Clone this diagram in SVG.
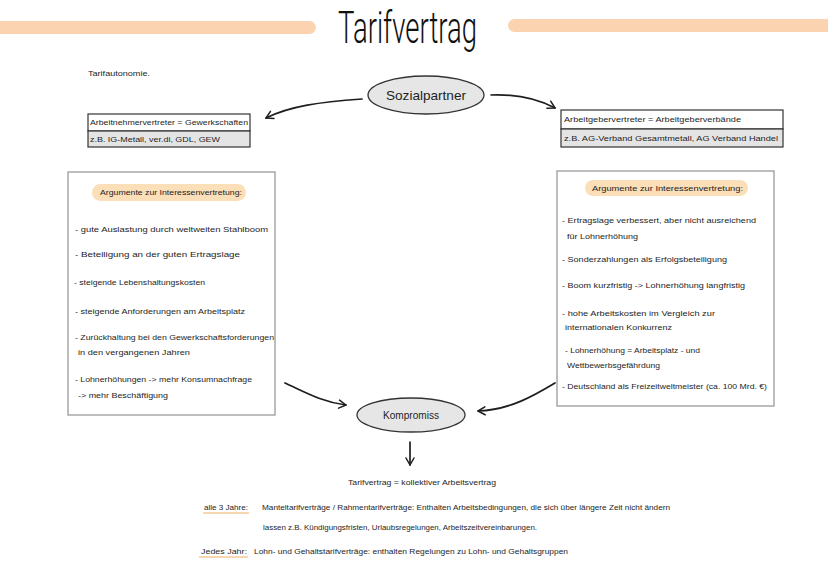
<svg xmlns="http://www.w3.org/2000/svg" width="828" height="586" viewBox="0 0 828 586">
<style>
text{font-family:"Liberation Sans","DejaVu Sans",sans-serif;fill:#1e1e1e}
.t{font-size:8px}
.s{font-size:7.5px}
.title{font-family:Roboto,"Liberation Sans",sans-serif;font-weight:300;font-size:45px;fill:#111}
.box{fill:#ffffff;stroke:#333;stroke-width:1.2}
.gray{fill:#e4e4e4;stroke:#333;stroke-width:1.2}
.arg{fill:#ffffff;stroke:#9a9a9a;stroke-width:1.3}
.pill{fill:#fbdfb9}
.ell{fill:#e6e6e6;stroke:#333;stroke-width:1.3}
.con{fill:none;stroke:#1e1e1e;stroke-width:1.7;stroke-linecap:round}
.bar{fill:#fbd3b1}
</style>
<defs>
<marker id="ah" markerWidth="10" markerHeight="10" refX="8" refY="5" orient="auto" markerUnits="userSpaceOnUse">
<path d="M1,1 L8,5 L1,9" fill="none" stroke="#1e1e1e" stroke-width="1.5" stroke-linecap="round" stroke-linejoin="round"/>
</marker>
</defs>
<rect width="828" height="586" fill="#ffffff"/>

<g id="header">
<rect class="bar" x="-10" y="21" width="326" height="13" rx="6.5"/>
<rect class="bar" x="508" y="19" width="330" height="13" rx="6.5"/>
<text class="title" x="338" y="43" textLength="139" lengthAdjust="spacingAndGlyphs">Tarifvertrag</text>
<text class="t" x="88" y="76" textLength="62" lengthAdjust="spacingAndGlyphs">Tarifautonomie.</text>
</g>

<g id="sozialpartner">
<ellipse class="ell" cx="426" cy="95" rx="58" ry="19"/>
<text x="426" y="100" text-anchor="middle" font-size="13" textLength="80" lengthAdjust="spacingAndGlyphs">Sozialpartner</text>
</g>

<g id="arbeitnehmer">
<rect class="box" x="88" y="114" width="162" height="17"/>
<rect class="gray" x="88" y="131" width="162" height="16"/>
<text class="t" x="90" y="125" textLength="158" lengthAdjust="spacingAndGlyphs">Arbeitnehmervertreter = Gewerkschaften</text>
<text class="t" x="90" y="142" textLength="130" lengthAdjust="spacingAndGlyphs">z.B. IG-Metall,  ver.di,  GDL, GEW</text>
</g>

<g id="arbeitgeber">
<rect class="box" x="561" y="110" width="222" height="19"/>
<rect class="gray" x="561" y="129" width="222" height="18"/>
<text class="t" x="564" y="122" textLength="177" lengthAdjust="spacingAndGlyphs">Arbeitgebervertreter  =  Arbeitgeberverbände</text>
<text class="t" x="564" y="141" textLength="214" lengthAdjust="spacingAndGlyphs">z.B.  AG-Verband  Gesamtmetall, AG Verband  Handel</text>
</g>

<g id="argumente-links">
<rect class="arg" x="68" y="172" width="207" height="243"/>
<rect class="pill" x="92" y="184" width="154" height="17" rx="8.5"/>
<text class="s" x="100" y="195" textLength="142" lengthAdjust="spacingAndGlyphs">Argumente  zur  Interessenvertretung:</text>
<text class="t" x="75" y="232" textLength="193" lengthAdjust="spacingAndGlyphs">- gute  Auslastung  durch  weltweiten   Stahlboom</text>
<text class="t" x="75" y="257" textLength="165" lengthAdjust="spacingAndGlyphs">- Beteiligung  an  der  guten  Ertragslage</text>
<text class="t" x="74" y="285" textLength="131" lengthAdjust="spacingAndGlyphs">- steigende  Lebenshaltungskosten</text>
<text class="t" x="75" y="314" textLength="170" lengthAdjust="spacingAndGlyphs">- steigende  Anforderungen  am  Arbeitsplatz</text>
<text class="t" x="75" y="340" textLength="199" lengthAdjust="spacingAndGlyphs">- Zurückhaltung  bei  den  Gewerkschaftsforderungen</text>
<text class="t" x="78" y="355" textLength="112" lengthAdjust="spacingAndGlyphs">in  den  vergangenen  Jahren</text>
<text class="t" x="75" y="382" textLength="177" lengthAdjust="spacingAndGlyphs">- Lohnerhöhungen  -&gt;  mehr  Konsumnachfrage</text>
<text class="t" x="78" y="398" textLength="90" lengthAdjust="spacingAndGlyphs">-&gt; mehr  Beschäftigung</text>
</g>

<g id="argumente-rechts">
<rect class="arg" x="557" y="171" width="217" height="235"/>
<rect class="pill" x="585" y="180" width="163" height="16" rx="8"/>
<text class="s" x="592" y="191" textLength="151" lengthAdjust="spacingAndGlyphs">Argumente   zur  Interessenvertretung:</text>
<text class="t" x="562" y="223" textLength="194" lengthAdjust="spacingAndGlyphs">- Ertragslage  verbessert,  aber  nicht  ausreichend</text>
<text class="t" x="567" y="239" textLength="71" lengthAdjust="spacingAndGlyphs">für  Lohnerhöhung</text>
<text class="t" x="562" y="262" textLength="165" lengthAdjust="spacingAndGlyphs">- Sonderzahlungen  als  Erfolgsbeteiligung</text>
<text class="t" x="562" y="288" textLength="183" lengthAdjust="spacingAndGlyphs">- Boom  kurzfristig  -&gt;  Lohnerhöhung  langfristig</text>
<text class="t" x="562" y="316" textLength="153" lengthAdjust="spacingAndGlyphs">- hohe  Arbeitskosten  im  Vergleich   zur</text>
<text class="t" x="565" y="330" textLength="107" lengthAdjust="spacingAndGlyphs">internationalen  Konkurrenz</text>
<text class="t" x="565" y="353" textLength="135" lengthAdjust="spacingAndGlyphs">- Lohnerhöhung  =  Arbeitsplatz -  und</text>
<text class="t" x="567" y="368" textLength="93" lengthAdjust="spacingAndGlyphs">Wettbewerbsgefährdung</text>
<text class="t" x="562" y="389" textLength="205" lengthAdjust="spacingAndGlyphs">- Deutschland  als  Freizeitweltmeister   (ca. 100 Mrd. €)</text>
</g>

<g id="kompromiss">
<ellipse class="ell" cx="411" cy="415" rx="54" ry="17"/>
<text x="411" y="419" text-anchor="middle" font-size="10.5" textLength="56" lengthAdjust="spacingAndGlyphs">Kompromiss</text>
</g>

<g id="connectors">
<path class="con" d="M362,99 C320,102 290,106 266,118" marker-end="url(#ah)"/>
<path class="con" d="M491,95 C515,94 538,99 555,108" marker-end="url(#ah)"/>
<path class="con" d="M285,383 C305,392 322,402 346,405" marker-end="url(#ah)"/>
<path class="con" d="M555,383 C535,395 510,410 478,411" marker-end="url(#ah)"/>
<path class="con" d="M410,442 L410,465" marker-end="url(#ah)"/>
</g>

<g id="bottom-text">
<text class="t" x="348" y="485" textLength="148" lengthAdjust="spacingAndGlyphs">Tarifvertrag  =  kollektiver  Arbeitsvertrag</text>
<text class="t" x="204" y="510" textLength="44" lengthAdjust="spacingAndGlyphs">alle 3 Jahre:</text>
<line x1="203" y1="513" x2="249" y2="513" stroke="#f0b060" stroke-width="1.2"/>
<text class="t" x="262" y="510" textLength="408" lengthAdjust="spacingAndGlyphs">Manteltarifverträge / Rahmentarifverträge:  Enthalten  Arbeitsbedingungen,  die  sich  über  längere  Zeit  nicht  ändern</text>
<text class="t" x="263" y="530" textLength="274" lengthAdjust="spacingAndGlyphs">lassen    z.B.  Kündigungsfristen,  Urlaubsregelungen,  Arbeitszeitvereinbarungen.</text>
<text class="t" x="201" y="554" textLength="46" lengthAdjust="spacingAndGlyphs">Jedes Jahr:</text>
<line x1="199" y1="557" x2="248" y2="557" stroke="#f0b060" stroke-width="1.2"/>
<text class="t" x="254" y="554" textLength="314" lengthAdjust="spacingAndGlyphs">Lohn- und  Gehaltstarifverträge:  enthalten  Regelungen  zu  Lohn-  und  Gehaltsgruppen</text>
</g>
</svg>
